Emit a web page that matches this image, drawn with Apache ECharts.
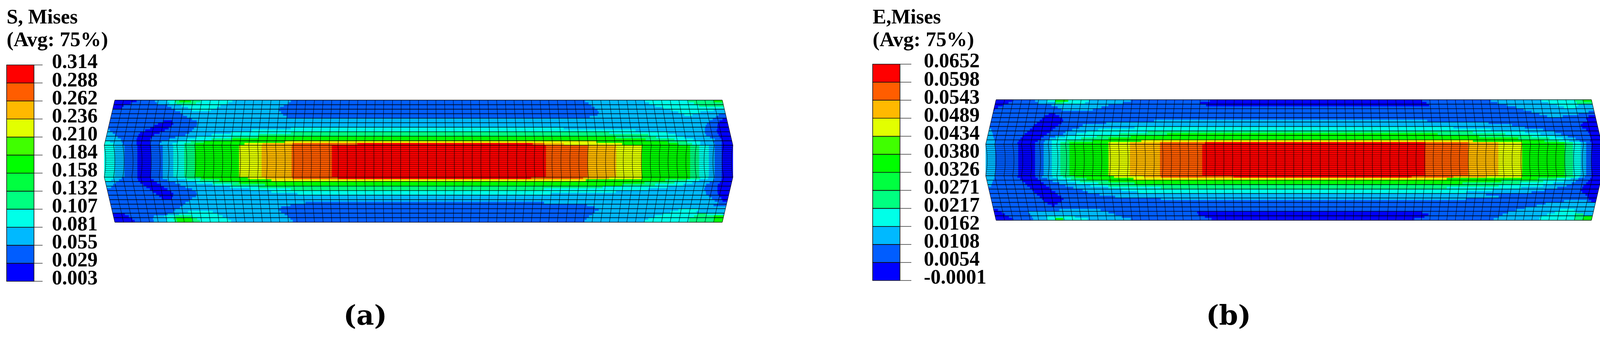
<!DOCTYPE html>
<html>
<head>
<meta charset="utf-8">
<title>Mises contour plots</title>
<style>
html,body{margin:0;padding:0;background:#fff}
#chart{width:4124px;height:864px}
</style>
<script src="https://cdn.jsdelivr.net/npm/echarts@6/dist/echarts.min.js"></script>
</head>
<body>
<div id="chart"></div>
<script>
// legend labels, top to bottom
var stressTicks = ['0.314','0.288','0.262','0.236','0.210','0.184','0.158','0.132','0.107','0.081','0.055','0.029','0.003']
var strainTicks = ['0.0652','0.0598','0.0543','0.0489','0.0434','0.0380','0.0326','0.0271','0.0217','0.0162','0.0108','0.0054','-0.0001']
// fringe colours, lowest band first
var bandColors = ['#0000ff','#005dff','#00b9ff','#00ffe8','#00ff80','#00ff40','#00ff00','#40ff00','#e2ff00','#ffb900','#ff5d00','#ff0000']

// mesh: 70 x 35 elements. thin rows in the middle, nodes pushed out towards the ends
var elemCols = 70
var rowThickness = [1,1,1,1,1,1,1,1,1,1, .47,.47,.47,.47,.47,.47,.47,.47,.47,.47,.47,.47,.47,.47,.47, 1,1,1,1,1,1,1,1,1,1]
var rowBend = [0,.1,.2,.3,.4,.5,.6,.7,.8,.9,1, .97,.94,.91,.89,.88,.87,.87,.87,.87,.88,.89,.91,.94,.97, 1,.9,.8,.7,.6,.5,.4,.3,.2,.1,0]
var columnShift = [1.22,1.15,1.07,1.04,1,.93,.9,.87,.85,.82,.78,.73,.68,.66,.64,.6,.56,.55,.52,.47,.44,.44,.4,.4,.35,.3,.28,.24,.21,.2,.16,.14,.13,.07,.04,0]

// fringe runs along the length: band, end of band, band, end of band ... last band
// 20 strips above the thin rows, 1 through them, 20 below
var stressRuns = [
[0,56,1,103,2,135,3,153,4,165,6,195,4,220,3,301,2,451,1,1204,2,1358,3,1468,4,1534,6],
[0,41,1,108,2,140,3,158,4,208,3,290,2,445,1,1213,2,1368,3,1483,4],
[0,23,1,135,2,171,3,271,2,433,1,1221,2,1384,3,1496,4],
[0,18,1,145,2,188,3,261,2,423,1,1229,2,1403,3],
[1,155,2,198,3,246,2,420,1,1236,2,1424,3,1533,2],
[1,168,2,426,1,1239,2,1443,3,1499,2],
[1,175,2,431,1,1236,2,1458,3,1479,2,1546,1],
[1,185,2,441,1,1216,2,1539,1],
[1,198,2,1531,1,1556,0],
[1,125,0,148,1,210,2,1523,1,1548,0],
[1,111,0,150,1,211,2,1516,1,1544,0],
[1,101,0,145,1,210,2,1513,1,1543,0],
[1,91,0,138,1,203,2,451,3,1149,2,1511,1,1543,0],
[2,-12,1,78,0,128,1,198,2,351,3,1333,2,1511,1,1541,0],
[2,-5,1,65,0,115,1,191,2,298,3,451,4,1266,3,1416,2,1511,1,1543,0],
[2,1,1,61,0,101,1,181,2,248,3,368,4,1366,3,1436,2,1514,1,1546,0],
[2,8,1,58,0,95,1,155,2,208,3,301,4,368,6,1283,4,1386,3,1458,2,1524,1,1549,0],
[2,16,1,56,0,91,1,138,2,185,3,248,4,301,6,1359,4,1433,3,1481,2,1536,1,1553,0],
[3,-12,2,18,1,56,0,91,1,120,2,161,3,195,4,228,6,435,8,1233,6,1416,4,1466,3,1499,2,1533,1,1554,0],
[3,-2,2,21,1,56,0,91,1,115,2,148,3,178,4,205,6,332,8,378,9,455,10,621,11,1070,10,1100,9,1150,8,1299,6,1443,4,1478,3,1499,2,1536,1,1554,0],
[3,0,2,25,1,58,0,93,1,123,2,150,3,178,4,205,6,318,8,376,9,453,10,556,11,1104,10,1211,9,1284,8,1349,6,1473,4,1496,3,1521,2,1536,1,1554,0],
[3,-2,2,18,1,58,0,93,1,123,2,158,3,185,4,221,6,341,8,385,9,455,10,571,11,1066,10,1199,9,1266,8,1349,6,1473,4,1499,3,1519,2,1536,1,1554,0],
[3,-9,2,11,1,60,0,100,1,135,2,181,3,218,4,268,6,401,8,1206,6,1409,4,1463,3,1496,2,1533,1,1553,0],
[2,3,1,65,0,108,1,155,2,208,3,251,4,318,6,1356,4,1433,3,1479,2,1523,1,1549,0],
[2,-4,1,73,0,118,1,168,2,251,3,301,4,385,6,1299,4,1383,3,1456,2,1514,1,1544,0],
[2,-9,1,81,0,126,1,181,2,295,3,368,4,1249,3,1416,2,1511,1,1543,0],
[1,90,0,135,1,198,2,345,3,451,4,1099,3,1366,2,1509,1,1543,0],
[1,98,0,145,1,208,2,401,3,1283,2,1513,1,1543,0],
[1,106,0,150,1,210,2,468,3,1116,2,1514,1,1544,0],
[1,114,0,149,1,208,2,1521,1,1548,0],
[1,120,0,146,1,198,2,1529,1,1553,0],
[1,190,2,1536,1,1556,0],
[1,181,2,488,1,1099,2,1546,1],
[1,175,2,450,1,1209,2,1533,1],
[1,167,2,426,1,1229,2],
[1,155,2,420,1,1239,2,1443,3,1496,2],
[1,150,2,188,3,251,2,426,1,1229,2,1423,3,1489,2],
[0,26,1,135,2,165,3,265,2,435,1,1223,2,1403,3,1493,4,1514,3,1556,2],
[0,36,1,100,2,128,3,155,4,198,3,276,2,443,1,1214,2,1383,3,1483,4,1534,6],
[0,45,1,98,2,135,3,150,4,158,6,198,4,211,3,290,2,450,1,1208,2,1366,3,1471,4,1534,6],
[0,51,1,100,2,133,3,153,4,160,6,198,4,218,3,298,2,456,1,1203,2,1356,3,1471,4,1534,6]
]
var strainRuns = [
[0,42,1,100,2,130,3,152,6,185,3,238,2,345,1,548,0,1091,1,1267,2,1397,3,1482,4,1504,6],
[0,32,1,107,2,152,4,172,3,228,2,325,1,523,0,1102,1,1284,2,1414,3,1487,4],
[0,18,1,142,2,288,1,538,0,1109,1,1307,2,1437,3,1491,2],
[0,5,1,158,2,270,1,1331,2,1454,3,1484,2],
[0,-3,1,168,2,248,1,1351,2],
[1,1371,2,1517,1],
[1,135,0,152,1,1391,2,1491,1],
[1,125,0,162,1,1411,2,1451,1,1517,0],
[1,118,0,170,1,1511,0],
[1,112,0,172,1,405,2,1104,1,1514,0],
[1,105,0,168,1,282,2,1261,1,1502,0],
[1,98,0,160,1,222,2,1321,1,1497,0],
[1,93,0,152,1,213,2,355,3,1171,2,1354,1,1501,0],
[2,-12,1,87,0,145,1,195,2,262,3,1267,2,1401,1,1511,0],
[2,-10,1,80,0,138,1,178,2,232,3,388,4,1221,3,1354,2,1431,1,1516,0],
[2,-8,1,73,0,130,1,172,2,205,3,315,4,438,6,1131,4,1304,3,1394,2,1447,1,1519,0],
[2,-7,1,68,0,122,1,152,2,178,3,258,4,345,6,1237,4,1371,3,1431,2,1464,1,1521,0],
[2,-5,1,63,0,115,1,137,2,155,3,218,4,288,6,1337,4,1417,3,1451,2,1484,1,1522,0],
[2,-3,1,58,0,107,1,125,2,143,3,182,4,248,6,372,8,1221,6,1404,4,1441,3,1467,2,1494,1,1521,0],
[2,-2,1,55,0,100,1,122,2,143,3,165,4,188,6,288,8,343,9,420,10,535,11,1099,10,1209,9,1286,8,1347,6,1456,4,1477,3,1497,2,1511,1,1524,0],
[2,-2,1,57,0,100,1,122,2,143,3,165,4,188,6,288,8,343,9,420,10,528,11,1099,10,1209,9,1286,8,1347,6,1456,4,1477,3,1497,2,1511,1,1524,0],
[2,-3,1,55,0,101,1,118,2,145,3,172,4,202,6,302,8,378,9,422,10,608,11,1064,10,1171,9,1254,8,1347,6,1457,4,1481,3,1494,2,1507,1,1524,0],
[2,-5,1,62,0,107,1,132,2,158,3,192,4,232,6,352,8,1154,6,1387,4,1434,3,1471,2,1491,1,1521,0],
[2,-8,1,68,0,115,1,145,2,182,3,215,4,288,6,1294,4,1401,3,1454,2,1484,1,1516,0],
[2,-10,1,75,0,122,1,162,2,205,3,262,4,355,6,1194,4,1341,3,1427,2,1474,1,1511,0],
[2,-12,1,80,0,128,1,178,2,242,3,288,4,1287,3,1401,2,1461,1,1504,0],
[1,87,0,137,1,198,2,288,3,422,4,1154,3,1344,2,1437,1,1501,0],
[1,93,0,143,1,222,2,322,3,1271,2,1404,1,1497,0],
[1,98,0,152,1,235,2,362,3,1204,2,1371,1,1501,0],
[1,105,0,158,1,265,2,1254,1,1509,0],
[1,112,0,167,1,305,2,1287,1,1514,0],
[1,118,0,173,1,422,2,1204,1,1517,0],
[1,123,0,168,1,1454,2,1514,1,1524,0],
[1,132,0,158,1,1407,2],
[1,143,0,150,1,1384,2],
[1,1354,2],
[0,5,1,162,2,268,1,1331,2,1444,3,1481,2],
[0,15,1,83,2,288,1,515,0,1091,1,1311,2,1431,3,1487,2],
[0,23,1,88,2,305,1,518,0,1107,1,1297,2,1411,3,1482,4,1504,2],
[0,33,1,92,2,132,3,202,2,322,1,535,0,1097,1,1287,2,1394,3,1481,4,1506,6],
[0,42,1,95,2,130,3,152,6,172,3,235,2,345,1,552,0,1071,1,1274,2,1391,3,1481,4,1502,6]
]

var FONT = '"Liberation Serif","Times New Roman",serif'

// row lines in model units
var rowY = [0]
rowThickness.forEach(function(t,i){ rowY.push(rowY[i]+t) })
var beamDepth = rowY[rowY.length-1]

// edges of the fringe strips: half rows outside the thin band
var stripEdges = []
for(var e=0;e<=20;e++) stripEdges.push(e/2)
for(var e=0;e<=20;e++) stripEdges.push(rowY[25]+e/2)

function nodeX(length,i,j){
  var pitch = length/elemCols
  var k = Math.min(i,elemCols-i)
  var dir = i<elemCols/2 ? -1 : 1
  return i*pitch + dir*columnShift[k]*pitch*rowBend[j]
}
function edgeX(length,i,y){
  for(var j=0;j<rowY.length-1;j++){
    if(y<=rowY[j+1]+1e-6){
      var t = (y-rowY[j])/(rowY[j+1]-rowY[j])
      return nodeX(length,i,j)*(1-t)+nodeX(length,i,j+1)*t
    }
  }
  return nodeX(length,i,rowY.length-1)
}

function fringeSeries(runs,length,axisIndex){
  var items = []
  runs.forEach(function(run,s){
    var from = -1000
    for(var k=0;k<run.length;k+=2){
      var to = k+1<run.length ? run[k+1] : 100000
      items.push({from:from,to:to,band:run[k],y0:stripEdges[s],y1:stripEdges[s+1]})
      from = to
    }
  })
  return {
    type:'custom',
    xAxisIndex:axisIndex,
    yAxisIndex:axisIndex,
    silent:true,
    progressive:0,
    animation:false,
    data:items.map(function(it){return [it.from,it.y0]}),
    renderItem:function(params,api){
      var it = items[params.dataIndex]
      var clampAt = function(x,y){
        return Math.min(Math.max(x,edgeX(length,0,y)),edgeX(length,elemCols,y))
      }
      var pts = [
        api.coord([clampAt(it.from,it.y0),it.y0]),
        api.coord([clampAt(it.to,it.y0),it.y0]),
        api.coord([clampAt(it.to,it.y1),it.y1]),
        api.coord([clampAt(it.from,it.y1),it.y1])
      ]
      return {type:'polygon',shape:{points:pts},style:{fill:bandColors[it.band],stroke:bandColors[it.band],lineWidth:.7}}
    }
  }
}

function meshSeries(length,axisIndex){
  var lines = []
  for(var j=0;j<rowY.length;j++) lines.push({row:j})
  for(var i=0;i<=elemCols;i++) lines.push({col:i})
  return {
    type:'custom',
    xAxisIndex:axisIndex,
    yAxisIndex:axisIndex,
    silent:true,
    progressive:0,
    animation:false,
    z:5,
    data:lines.map(function(l,n){return [0,n]}),
    renderItem:function(params,api){
      var l = lines[params.dataIndex]
      var pts = []
      var style = {fill:null,stroke:'#000',lineWidth:1.4,opacity:.7}
      if(l.row!==undefined){
        for(var i=0;i<=elemCols;i++) pts.push(api.coord([nodeX(length,i,l.row),rowY[l.row]]))
        // rows inside the thin band are drawn finer
        var thin = l.row>10 && l.row<25
        style.lineWidth = thin ? 1.1 : 1.7
        style.opacity = thin ? .65 : .9
      }else{
        for(var j=0;j<rowY.length;j++) pts.push(api.coord([nodeX(length,l.col,j),rowY[j]]))
      }
      return {type:'polyline',shape:{points:pts},style:style}
    }
  }
}

function legendSeries(axisIndex){
  return {
    type:'custom',
    xAxisIndex:axisIndex,
    yAxisIndex:axisIndex,
    silent:true,
    animation:false,
    data:bandColors.map(function(c,i){return [0,i]}),
    renderItem:function(params,api){
      var i = params.dataIndex
      var a = api.coord([0,i+1]), b = api.coord([1,i])
      return {type:'rect',shape:{x:a[0],y:a[1],width:b[0]-a[0],height:b[1]-a[1]},style:{fill:bandColors[i],stroke:'#111',lineWidth:1.6}}
    }
  }
}

// axis labels next to the ends get dropped when the font is this tight, so ticks and labels go here
function legendTickSeries(ticks,axisIndex,tickLength,labelGap){
  return {
    type:'custom',
    xAxisIndex:axisIndex,
    yAxisIndex:axisIndex,
    silent:true,
    animation:false,
    data:ticks.map(function(t,i){return [1,12-i]}),
    renderItem:function(params,api){
      var i = params.dataIndex
      var p = api.coord([1,12-i])
      return {type:'group',children:[
        {type:'line',shape:{x1:p[0],y1:p[1],x2:p[0]+tickLength,y2:p[1]},style:{stroke:'#444',lineWidth:1.6}},
        {type:'text',x:p[0]+labelGap,y:p[1]-5,style:{text:ticks[i],fill:'#000',font:'bold 52px '+FONT,textAlign:'left',textVerticalAlign:'middle'}}
      ]}
    }
  }
}

function hiddenAxis(grid,min,max,inverse){
  return {type:'value',gridIndex:grid,min:min,max:max,inverse:!!inverse,show:false}
}

var stressLength = 1555, strainLength = 1524
var pad = 40

function heading(text,x,y,size){
  return {type:'text',left:x,top:y,style:{text:text,fill:'#000',font:'bold '+size+'px '+FONT}}
}
function caption(letter,x){
  return {
    text:'{p|(}{b|'+letter+'}{p|)}',left:x,top:772,textAlign:'center',
    textStyle:{rich:{
      p:{fontFamily:'"DejaVu Serif",serif',fontSize:70,color:'#000'},
      b:{fontFamily:'"DejaVu Serif",serif',fontSize:70,fontWeight:'bold',color:'#000'}
    }}
  }
}

var chart = echarts.init(document.getElementById('chart'),null,{renderer:'canvas'})
chart.setOption({
  animation:false,
  backgroundColor:'#fff',
  title:[caption('a',930),caption('b',3140)],
  graphic:[
    heading('S, Mises',17,21,52),
    heading('(Avg: 75%)',17,78,53),
    heading('E,Mises',2234,21,52),
    heading('(Avg: 75%)',2234,78,53)
  ],
  grid:[
    {left:294-pad,top:256,width:stressLength+2*pad,height:312},
    {left:2550-pad,top:255,width:strainLength+2*pad,height:308},
    {left:17,top:166,width:70,height:553},
    {left:2234,top:164,width:70,height:553}
  ],
  xAxis:[
    hiddenAxis(0,-pad,stressLength+pad),
    hiddenAxis(1,-pad,strainLength+pad),
    hiddenAxis(2,0,1),
    hiddenAxis(3,0,1)
  ],
  yAxis:[
    hiddenAxis(0,0,beamDepth,true),
    hiddenAxis(1,0,beamDepth,true),
    hiddenAxis(2,0,12),
    hiddenAxis(3,0,12)
  ],
  series:[
    fringeSeries(stressRuns,stressLength,0),
    meshSeries(stressLength,0),
    fringeSeries(strainRuns,strainLength,1),
    meshSeries(strainLength,1),
    legendSeries(2),
    legendSeries(3),
    legendTickSeries(stressTicks,2,22,46),
    legendTickSeries(strainTicks,3,29,61)
  ]
})
</script>
</body>
</html>
